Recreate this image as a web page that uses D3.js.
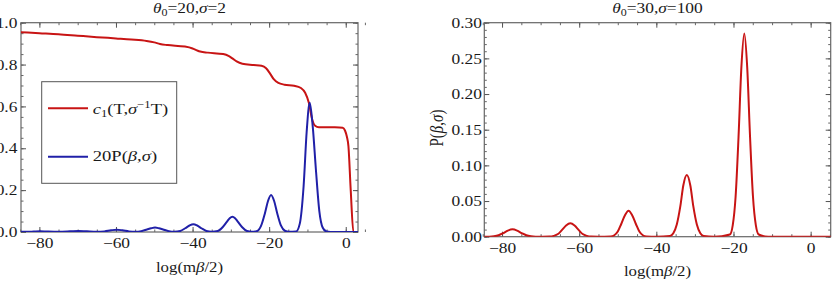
<!DOCTYPE html>
<html>
<head>
<meta charset="utf-8">
<script src="https://cdn.jsdelivr.net/npm/d3@7"></script>
<style>
body { margin: 0; background: #fff; }
text { font-family: "Liberation Serif", "Times New Roman", serif; fill: #1a1a1a; }
</style>
</head>
<body>
<div id="chart"></div>
<script>
const width = 835
const height = 284
const stretch = 1.2 // the picture is a bit wider than tall, text too

// data
const xTicks = [-80, -60, -40, -20, 0]
const leftYTicks = [0, 0.2, 0.4, 0.6, 0.8, 1.0]
const rightYTicks = [0, 0.05, 0.10, 0.15, 0.20, 0.25, 0.30]

const leftTitle = "20"
const leftSigma = "2"
const rightTitle = "30"
const rightSigma = "100"

// c1(T, sigma^-1 T)
const c1Curve = [[-86,0.956],[-80,0.95],[-75,0.945],[-70,0.938],[-65,0.931],[-60,0.925],[-56,0.92],[-52,0.913],
  [-50,0.906],[-48.5,0.898],[-46.5,0.893],[-42,0.886],[-40,0.877],[-39,0.869],[-38,0.862],[-36,0.857],[-32,0.85],
  [-30.5,0.84],[-29.5,0.828],[-28.5,0.815],[-27,0.804],[-24,0.798],[-22,0.794],[-20.8,0.782],[-19.8,0.758],
  [-18.8,0.73],[-17.6,0.712],[-16,0.704],[-13.5,0.699],[-11.7,0.688],[-10.6,0.665],[-9.6,0.615],[-8.8,0.54],
  [-8,0.508],[-7,0.501],[-3,0.5],[-0.8,0.498],[-0.2,0.485],[0.3,0.455],[0.7,0.41],[1.3,0.2],[2.0,0.0],[4,0]]

// 20 P(beta, sigma)
const p20Curve = [[-86,0.001],[-83,0.001],[-81.5,0.002],[-79.8,0.003],[-78,0.002],[-75,0.001],[-72,0.003],[-69.8,0.005],
  [-67.6,0.003],[-65,0.001],[-63,0.003],[-61.3,0.008],[-59.8,0.011],[-58.3,0.008],[-56.6,0.003],[-55,0.001],
  [-53.4,0.004],[-51.9,0.012],[-50.8,0.018],[-49.8,0.021],[-48.8,0.018],[-47.7,0.012],[-46.2,0.004],[-44.8,0.001],
  [-43.2,0.005],[-41.9,0.018],[-40.8,0.031],[-39.8,0.037],[-38.8,0.031],[-37.7,0.018],[-36.4,0.005],[-35,0.001],
  [-33.4,0.005],[-32.1,0.024],[-31,0.05],[-30.3,0.066],[-29.6,0.073],[-28.9,0.066],[-28.2,0.05],[-27.1,0.024],
  [-25.8,0.005],[-24.5,0.001],[-23.1,0.005],[-22.1,0.03],[-21.1,0.09],[-20.3,0.148],[-19.5,0.177],[-18.7,0.148],
  [-17.9,0.09],[-16.9,0.03],[-15.9,0.006],[-14.8,0.001],[-13,0.002],[-12,0.04],[-11,0.22],[-10.2,0.48],
  [-9.4,0.618],[-8.6,0.5],[-7.8,0.3],[-6.9,0.1],[-6,0.02],[-5,0.002],[-4,0],[4,0]]

// P(beta, sigma), right panel
const pCurve = [[-87,0],[-84.5,0],
  [-83.3,0.0001],[-82.1,0.0006],[-80.9,0.002],[-79.7,0.005],[-78.5,0.0086],[-77.3,0.0103],[-76.1,0.0086],
  [-74.9,0.005],[-73.7,0.002],[-72.5,0.0006],[-71.3,0.0001],[-69.5,0],
  [-67.7,0.0002],[-66.6,0.0011],[-65.5,0.0037],[-64.5,0.0092],[-63.4,0.0157],[-62.3,0.0188],[-61.2,0.0157],
  [-60.1,0.0092],[-59.1,0.0037],[-58,0.0011],[-56.9,0.0002],[-55,0],
  [-51.85,0.0004],[-50.9,0.002],[-50.0,0.0072],[-49.1,0.0178],[-48.1,0.0305],[-47.2,0.0365],[-46.3,0.0305],
  [-45.3,0.0178],[-44.4,0.0072],[-43.5,0.002],[-42.55,0.0004],[-40,0],
  [-36.45,0.001],[-35.6,0.0048],[-34.7,0.0171],[-33.8,0.0421],[-33.0,0.0722],[-32.1,0.0865],[-31.2,0.0722],
  [-30.4,0.0421],[-29.5,0.0171],[-28.6,0.0048],[-27.75,0.001],[-25,0],
  [-20.95,0.0031],[-20.2,0.016],[-19.45,0.0564],[-18.7,0.139],[-17.95,0.238],[-17.2,0.285],[-16.45,0.238],
  [-15.7,0.139],[-14.95,0.0564],[-14.2,0.016],[-13.45,0.0031],[-11,0],[7,0]]

const red = "#c81414"
const blue = "#2020a8"

const svg = d3.select("div#chart")
    .append("svg")
    .attr("width", width)
    .attr("height", height)

// un texto estirado en horizontal
function stretchedText(g, x, y, anchor, size) {
    return g.append("text")
        .attr("transform", `translate(${x},${y}) scale(${stretch},1)`)
        .attr("text-anchor", anchor)
        .style("font-size", size + "px")
}

function drawPanel(p) {
    const x = d3.scaleLinear().domain(p.xDomain).range([p.left, p.right])
    const y = d3.scaleLinear().domain(p.yDomain).range([p.bottom, p.top])

    const g = svg.append("g")

    // minor ticks, all four sides
    const xMinor = d3.range(-85, 6, 5)
    const yMinor = d3.range(p.yDomain[0], p.yDomain[1] + 1e-9, p.yMinorStep)
    const minor = [
        [d3.axisBottom(x).tickValues(xMinor), `translate(0,${p.bottom})`],
        [d3.axisTop(x).tickValues(xMinor), `translate(0,${p.top})`],
        [d3.axisLeft(y).tickValues(yMinor), `translate(${p.left},0)`],
        [d3.axisRight(y).tickValues(yMinor), `translate(${p.right},0)`]
    ]
    minor.forEach(([ax, tr]) => {
        g.append("g").attr("transform", tr)
            .call(ax.tickSizeInner(-2.5).tickSizeOuter(0).tickFormat(""))
            .call(a => a.select(".domain").remove())
            .call(a => a.selectAll("line").attr("stroke", "#666"))
    })

    // mirrored major ticks, no labels
    g.append("g").attr("transform", `translate(0,${p.top})`)
        .call(d3.axisTop(x).tickValues(xTicks).tickSizeInner(-5).tickSizeOuter(0).tickFormat(""))
        .call(a => a.select(".domain").remove())
        .call(a => a.selectAll("line").attr("stroke", "#555"))
    g.append("g").attr("transform", `translate(${p.right},0)`)
        .call(d3.axisRight(y).tickValues(p.yTicks).tickSizeInner(-5).tickSizeOuter(0).tickFormat(""))
        .call(a => a.select(".domain").remove())
        .call(a => a.selectAll("line").attr("stroke", "#555"))

    // axes with labels
    g.append("g").attr("transform", `translate(0,${p.bottom})`)
        .call(d3.axisBottom(x).tickValues(xTicks).tickSizeInner(-5).tickSizeOuter(0).tickPadding(6))
        .call(a => a.select(".domain").remove())
        .call(a => a.selectAll("line").attr("stroke", "#555"))
        .call(a => a.selectAll("text").attr("transform", `scale(${stretch},1)`)
            .style("font-size", "14.5px").style("font-family", null).attr("fill", "#1a1a1a"))
    g.append("g").attr("transform", `translate(${p.left},0)`)
        .call(d3.axisLeft(y).tickValues(p.yTicks).tickSizeInner(-5).tickSizeOuter(0)
            .tickPadding(p.yPad).tickFormat(d3.format(p.yFormat)))
        .call(a => a.select(".domain").remove())
        .call(a => a.selectAll("line").attr("stroke", "#555"))
        .call(a => a.selectAll("text").attr("transform", `scale(${stretch},1)`)
            .style("font-size", "14.5px").style("font-family", null).attr("fill", "#1a1a1a"))

    // frame
    g.append("rect")
        .attr("x", p.left).attr("y", p.top)
        .attr("width", p.right - p.left).attr("height", p.bottom - p.top)
        .attr("fill", "none").attr("stroke", "#666").attr("stroke-width", 1.2)

    const clipId = "clip" + p.id
    svg.append("clipPath").attr("id", clipId)
        .append("rect")
        .attr("x", p.left).attr("y", p.top)
        .attr("width", p.right - p.left).attr("height", p.bottom - p.top)

    const line = d3.line()
        .x(d => x(d[0]))
        .y(d => y(d[1]))
        .curve(d3.curveMonotoneX)

    p.series.forEach(s => {
        g.append("path")
            .attr("clip-path", `url(#${clipId})`)
            .attr("d", line(s.data))
            .attr("fill", "none")
            .attr("stroke", s.color)
            .attr("stroke-width", 2)
            .attr("stroke-linejoin", "round")
    })

    // title
    const t = stretchedText(g, (p.left + p.right) / 2, 13, "middle", 14.5)
    t.append("tspan").style("font-style", "italic").text("θ")
    t.append("tspan").attr("dy", 3).style("font-size", "10px").text("0")
    t.append("tspan").attr("dy", -3).text("=" + p.theta + ",")
    t.append("tspan").style("font-style", "italic").text("σ")
    t.append("tspan").text("=" + p.sigma)

    // x label
    const xl = stretchedText(g, (p.left + p.right) / 2, p.bottom + 39.5, "middle", 14)
    xl.append("tspan").text("log(m")
    xl.append("tspan").style("font-style", "italic").text("β")
    xl.append("tspan").text("/2)")

    return g
}

drawPanel({
    id: "L", left: 21, right: 358, top: 22.7, bottom: 232,
    xDomain: [-84.8, 3.2], yDomain: [0, 1], yTicks: leftYTicks, yMinorStep: 0.05,
    yFormat: ".1f", yPad: 3, theta: leftTitle, sigma: leftSigma,
    series: [{data: c1Curve, color: red}, {data: p20Curve, color: blue}]
})

const right = drawPanel({
    id: "R", left: 484.3, right: 830.7, top: 22.7, bottom: 236.7,
    xDomain: [-84.6, 5.2], yDomain: [0, 0.30], yTicks: rightYTicks, yMinorStep: 0.01,
    yFormat: ".2f", yPad: 2, theta: rightTitle, sigma: rightSigma,
    series: [{data: pCurve, color: red}]
})

// y label of the right panel
const yl = right.append("text")
    .attr("transform", `translate(443,128) scale(${stretch},1) rotate(-90)`)
    .attr("text-anchor", "middle")
    .style("font-size", "15px")
yl.append("tspan").text("P(")
yl.append("tspan").style("font-style", "italic").text("β")
yl.append("tspan").text(",")
yl.append("tspan").style("font-style", "italic").text("σ")
yl.append("tspan").text(")")

// legend
const legend = svg.append("g")
legend.append("rect")
    .attr("x", 41.7).attr("y", 81.7).attr("width", 135).attr("height", 101.6)
    .attr("fill", "#fff").attr("stroke", "#555").attr("stroke-width", 1)

const legendItems = [
    {color: red, y: 108.3},
    {color: blue, y: 156.7}
]
legend.selectAll("line").data(legendItems).join("line")
    .attr("x1", 48).attr("x2", 88)
    .attr("y1", d => d.y).attr("y2", d => d.y)
    .attr("stroke", d => d.color).attr("stroke-width", 2)

const l1 = stretchedText(legend, 92.7, 113.5, "start", 15.5)
l1.append("tspan").style("font-style", "italic").text("c")
l1.append("tspan").attr("dy", 3).style("font-size", "10.5px").text("1")
l1.append("tspan").attr("dy", -3).text("(T,")
l1.append("tspan").style("font-style", "italic").text("σ")
l1.append("tspan").attr("dy", -6).style("font-size", "10.5px").text("−1")
l1.append("tspan").attr("dy", 6).text("T)")

const l2 = stretchedText(legend, 92.7, 161, "start", 15.5)
l2.append("tspan").text("20P(")
l2.append("tspan").style("font-style", "italic").text("β")
l2.append("tspan").text(",")
l2.append("tspan").style("font-style", "italic").text("σ")
l2.append("tspan").text(")")
</script>
</body>
</html>
